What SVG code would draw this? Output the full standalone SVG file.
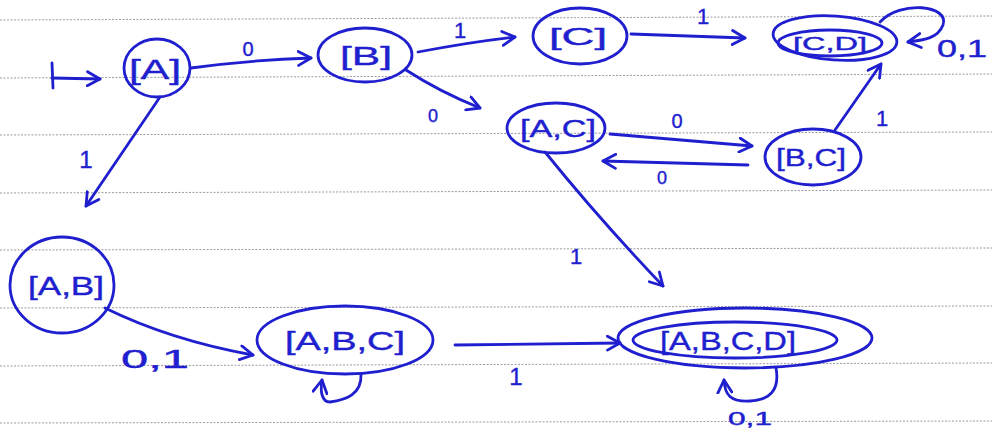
<svg xmlns="http://www.w3.org/2000/svg" width="992" height="428" viewBox="0 0 992 428">
  <style>
    .rule { stroke: #9a9aa0; stroke-width: 1; stroke-dasharray: 2 1.5; fill: none; }
    .node { fill: none; stroke: #1f1fcf; stroke-width: 2.8; }
    .edge { fill: none; stroke: #1f1fcf; stroke-width: 2.8; stroke-linecap: round; marker-end: url(#head); }
    .plain { fill: none; stroke: #1f1fcf; stroke-width: 2.8; stroke-linecap: round; }
    .lbl { font-family: "Liberation Sans", Arial, sans-serif; fill: #1f1fcf; stroke: #1f1fcf; stroke-width: 0.4; text-anchor: middle; }
  </style>
  <defs>
    <marker id="head" viewBox="0 0 12 12" refX="10" refY="6" markerWidth="6" markerHeight="6" orient="auto" markerUnits="strokeWidth">
      <path d="M1,1 L10,6 L1,11" fill="none" stroke="#1f1fcf" stroke-width="2" stroke-linecap="round" stroke-linejoin="round"/>
    </marker>
  </defs>
  <rect width="992" height="428" fill="#ffffff"/>

  <!-- ruled paper -->
  <g id="paper">
    <line class="rule" x1="0" y1="20" x2="992" y2="16"/>
    <line class="rule" x1="0" y1="78" x2="992" y2="74"/>
    <line class="rule" x1="0" y1="135" x2="992" y2="132"/>
    <line class="rule" x1="0" y1="193" x2="992" y2="190"/>
    <line class="rule" x1="0" y1="250" x2="992" y2="248"/>
    <line class="rule" x1="0" y1="308" x2="992" y2="306"/>
    <line class="rule" x1="0" y1="366" x2="992" y2="363"/>
    <line class="rule" x1="0" y1="423" x2="992" y2="421"/>
  </g>

  <!-- transitions -->
  <g id="connectors">
    <line class="plain" x1="52" y1="63" x2="53" y2="88"/>
    <path class="edge" d="M52,78 L100,79"/>
    <path class="edge" d="M191,68 Q250,60 311,58"/>
    <path class="edge" d="M418,52 Q470,42 515,37"/>
    <path class="edge" d="M406,70 Q440,92 480,108"/>
    <path class="edge" d="M631,34 L745,38"/>
    <path class="edge" d="M880,22 C900,0 950,5 943,25 C938,38 925,40 908,42"/>
    <path class="edge" d="M835,130 L881,64"/>
    <path class="edge" d="M610,134 L752,146"/>
    <path class="edge" d="M748,165 L603,161"/>
    <path class="edge" d="M545,152 Q600,220 663,286"/>
    <path class="edge" d="M160,97 L86,206"/>
    <path class="edge" d="M105,308 Q170,340 253,355"/>
    <path class="edge" d="M361,374 C362,395 345,400 330,402 C322,402 320,392 322,380"/>
    <path class="edge" d="M455,345 L620,343"/>
    <path class="edge" d="M776,368 C780,390 770,400 750,401 C730,402 725,395 724,380"/>

    <text class="lbl" x="248" y="56" font-size="20">0</text>
    <text class="lbl" x="460" y="38" font-size="22">1</text>
    <text class="lbl" x="433" y="122" font-size="18">0</text>
    <text class="lbl" x="703" y="24" font-size="22">1</text>
    <text class="lbl" x="962" y="57" font-size="24" textLength="50" lengthAdjust="spacingAndGlyphs">0,1</text>
    <text class="lbl" x="882" y="126" font-size="22">1</text>
    <text class="lbl" x="677" y="128" font-size="20">0</text>
    <text class="lbl" x="662" y="184" font-size="18">0</text>
    <text class="lbl" x="576" y="264" font-size="22">1</text>
    <text class="lbl" x="86" y="168" font-size="24">1</text>
    <text class="lbl" x="155" y="368" font-size="26" textLength="68" lengthAdjust="spacingAndGlyphs">0,1</text>
    <text class="lbl" x="516" y="385" font-size="24">1</text>
    <text class="lbl" x="750" y="425" font-size="18" textLength="44" lengthAdjust="spacingAndGlyphs">0,1</text>
  </g>

  <!-- states -->
  <g id="state-A">
    <ellipse class="node" cx="157" cy="68" rx="33" ry="29"/>
    <text class="lbl" x="155" y="79" font-size="27" textLength="52" lengthAdjust="spacingAndGlyphs">[A]</text>
  </g>
  <g id="state-B">
    <ellipse class="node" cx="365" cy="55" rx="47" ry="27"/>
    <text class="lbl" x="366" y="65" font-size="26" textLength="52" lengthAdjust="spacingAndGlyphs">[B]</text>
  </g>
  <g id="state-C">
    <ellipse class="node" cx="580" cy="36" rx="47" ry="28"/>
    <text class="lbl" x="578" y="45" font-size="24" textLength="58" lengthAdjust="spacingAndGlyphs">[C]</text>
  </g>
  <g id="state-CD">
    <ellipse class="node" cx="835" cy="38" rx="62" ry="22" transform="rotate(4 835 38)"/>
    <ellipse class="node" cx="830" cy="43" rx="52" ry="13"/>
    <text class="lbl" x="830" y="50" font-size="18" textLength="74" lengthAdjust="spacingAndGlyphs">[C,D]</text>
  </g>
  <g id="state-AC">
    <ellipse class="node" cx="556" cy="128" rx="49" ry="25"/>
    <text class="lbl" x="558" y="137" font-size="23" textLength="76" lengthAdjust="spacingAndGlyphs">[A,C]</text>
  </g>
  <g id="state-BC">
    <ellipse class="node" cx="813" cy="157" rx="48" ry="28"/>
    <text class="lbl" x="811" y="166" font-size="23" textLength="70" lengthAdjust="spacingAndGlyphs">[B,C]</text>
  </g>
  <g id="state-AB">
    <ellipse class="node" cx="62" cy="285" rx="52" ry="48"/>
    <text class="lbl" x="66" y="295" font-size="26" textLength="76" lengthAdjust="spacingAndGlyphs">[A,B]</text>
  </g>
  <g id="state-ABC">
    <ellipse class="node" cx="345" cy="340" rx="88" ry="34"/>
    <text class="lbl" x="345" y="350" font-size="25" textLength="120" lengthAdjust="spacingAndGlyphs">[A,B,C]</text>
  </g>
  <g id="state-ABCD">
    <ellipse class="node" cx="745" cy="338" rx="127" ry="30"/>
    <ellipse class="node" cx="735" cy="340" rx="102" ry="18"/>
    <text class="lbl" x="728" y="350" font-size="26" textLength="136" lengthAdjust="spacingAndGlyphs">[A,B,C,D]</text>
  </g>
</svg>
